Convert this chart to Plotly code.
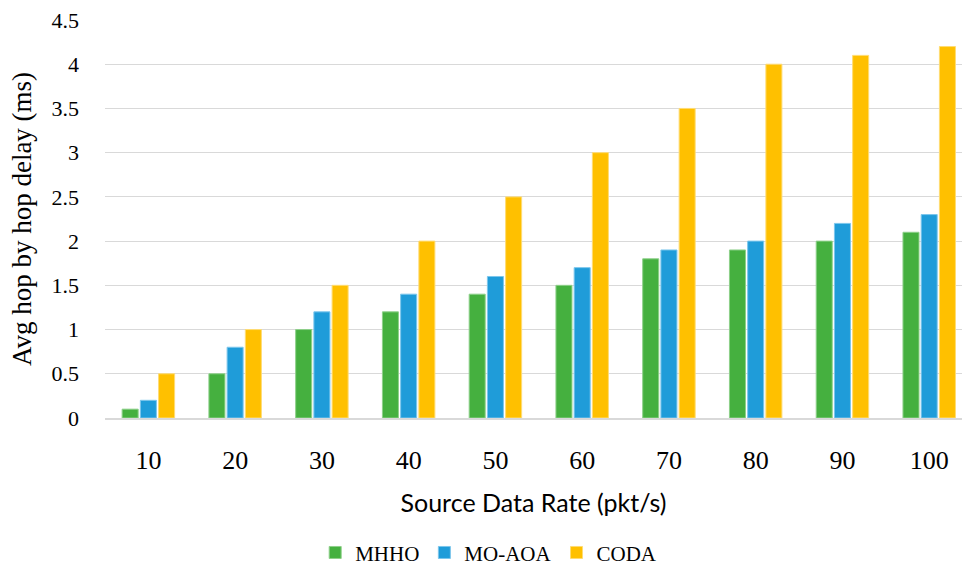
import plotly.graph_objects as go

categories = ["10", "20", "30", "40", "50", "60", "70", "80", "90", "100"]
mhho = [0.1, 0.5, 1.0, 1.2, 1.4, 1.5, 1.8, 1.9, 2.0, 2.1]
mo_aoa = [0.2, 0.8, 1.2, 1.4, 1.6, 1.7, 1.9, 2.0, 2.2, 2.3]
coda = [0.5, 1.0, 1.5, 2.0, 2.5, 3.0, 3.5, 4.0, 4.1, 4.2]
y_ticks = [0, 0.5, 1, 1.5, 2, 2.5, 3, 3.5, 4, 4.5]
y_tick_text = ["0", "0.5", "1", "1.5", "2", "2.5", "3", "3.5", "4", "4.5"]

SERIF = "Liberation Serif, Times New Roman, serif"
SANS = "Lato, Carlito, Calibri, sans-serif"

fig = go.Figure()
for name, vals, col, edge in [
    ("MHHO", mhho, "#45B03F", "#8ed08a"),
    ("MO-AOA", mo_aoa, "#1F9CD9", "#7cc6ec"),
    ("CODA", coda, "#FFC000", "#ffdc73"),
]:
    fig.add_trace(go.Bar(x=categories, y=vals, name=name,
                         marker=dict(color=col, line=dict(color=edge, width=1))))

fig.update_layout(
    width=962, height=567,
    margin=dict(l=105, r=0, t=20, b=149, autoexpand=False),
    plot_bgcolor="white", paper_bgcolor="white",
    barmode="group", bargap=0.37, bargroupgap=0.12,
    font=dict(family=SERIF, color="#000000", size=22),
    legend=dict(orientation="h", x=0.508, xanchor="center", xref="container",
                y=0.025, yanchor="middle", yref="container",
                font=dict(size=21, family=SERIF), itemwidth=30,
                traceorder="normal"),
    xaxis=dict(type="category", range=[-0.5, 9.378], automargin=False,
               showgrid=False, showline=True, linecolor="#d9d9d9", linewidth=2,
               ticks="", ticklabelstandoff=18,
               tickfont=dict(size=26, family=SERIF),
               title=dict(text="Source Data Rate (pkt/s)", standoff=20,
                          font=dict(size=25, family=SANS))),
    yaxis=dict(range=[0, 4.5], tickvals=y_ticks, ticktext=y_tick_text,
               automargin=False,
               showgrid=True, gridcolor="#d9d9d9", gridwidth=1,
               zeroline=False, showline=False, ticks="",
               ticklabelstandoff=25,
               tickfont=dict(size=22, family=SERIF),
               title=dict(text="Avg hop by hop delay (ms)", standoff=12,
                          font=dict(size=27, family=SERIF))),
)

fig.write_html("out.html", config={"displayModeBar": False},
               post_script="document.body.style.margin='0';")
